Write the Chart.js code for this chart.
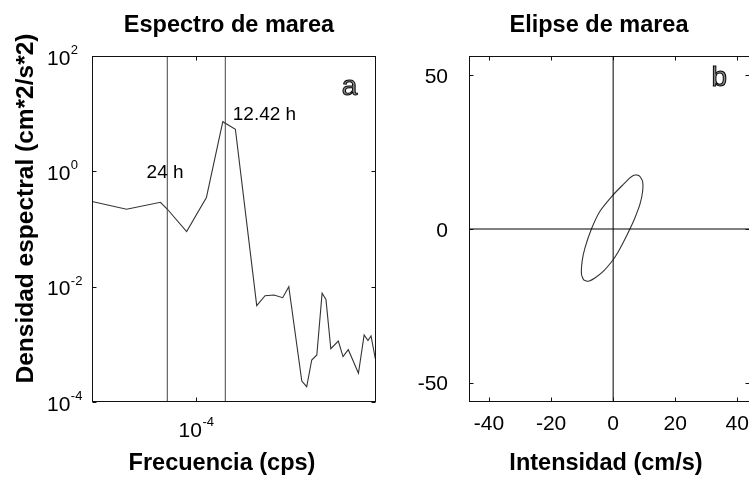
<!DOCTYPE html>
<html lang="es">
<head>
<meta charset="UTF-8">
<title>Espectro y elipse de marea</title>
<script src="https://cdn.jsdelivr.net/npm/chart.js"></script>
<style>
  html, body { margin: 0; padding: 0; background: #fff; overflow: hidden; }
  #wrap { position: relative; width: 749px; height: 479px; overflow: hidden; background: #fff; }
  #espectro { position: absolute; left: 0; top: 0; }
  #elipse { position: absolute; left: 380px; top: 0; }
</style>
</head>
<body>
<div id="wrap">
  <canvas id="espectro" width="380" height="479"></canvas>
  <canvas id="elipse" width="380" height="479"></canvas>
</div>
<script>
// panel a: spectrum (log-log)
const frecuencia = [3.074e-5, 4.55e-5, 6.68e-5, 7.23e-5, 8.99e-5, 1.125e-4, 1.355e-4, 1.563e-4,
  1.991e-4, 2.188e-4, 2.421e-4, 2.673e-4, 2.864e-4, 3.319e-4, 3.508e-4, 3.715e-4, 3.936e-4,
  4.178e-4, 4.365e-4, 4.613e-4, 5.023e-4, 5.297e-4, 5.623e-4, 5.916e-4, 6.310e-4, 6.730e-4,
  7.031e-4, 7.278e-4, 7.621e-4, 7.798e-4];
const densidad = [0.30, 0.22, 0.29, 0.22, 0.090, 0.35, 7.26, 5.36,
  4.68e-3, 6.97e-3, 7.17e-3, 6.44e-3, 9.98e-3, 2.31e-4, 1.84e-4, 5.35e-4, 6.53e-4,
  7.67e-3, 5.99e-3, 8.40e-4, 1.14e-3, 6.11e-4, 8.07e-4, 5.35e-4, 3.15e-4, 1.45e-3,
  1.16e-3, 1.40e-3, 5.91e-4, 6.8e-4];
const periodoTexto = ["24 h", "12.42 h"];
const periodoFrec = [7.22e-5, 1.394e-4];
const periodoTextoPos = [[5.71e-5, 0.766], [1.517e-4, 7.76]];
const frecLim = [3.074e-5, 7.70e-4];
const densLim = [1e-4, 1e2];
const frecTicks = [1e-4];
const densTicks = [1e-4, 1e-2, 1, 1e2];

// panel b: tidal ellipse
const elipseU = [7.5, 8.6, 9.5, 9.5, 8.6, 7.0, 5.4, 3.2, 1.6, 0, -3.2, -5.9, -8.1, -9.5, -10.2,
  -10.0, -9.1, -7.0, -4.3, 0, 3.2, 5.4, 6.5, 7.5];
const elipseV = [17.6, 17.1, 15.5, 12.2, 7.9, 3.6, 0, -4.5, -7.5, -10.0, -13.8, -15.9, -17.0, -16.5, -14.8,
  -10.5, -6.2, 0, 5.7, 11.1, 14.4, 16.6, 17.4, 17.6];
const uLim = [-46.45, 44.1];
const vLim = [-56.2, 56.2];
const uTicks = [-40, -20, 0, 20, 40];
const vTicks = [-50, 0, 50];

const FONT = '"Liberation Sans", Arial, sans-serif';

function expOf(v) { return Math.round(Math.log10(v)); }

// box, inward ticks, tick labels and texts, drawn like the matlab axes
function drawBox(chart, xt, yt) {
  const ctx = chart.ctx, a = chart.chartArea;
  const xs = chart.scales.x, ys = chart.scales.y;
  const L = Math.round(a.left) + 0.5, R = Math.round(a.right) - 0.5;
  const T = Math.round(a.top) + 0.5, B = Math.round(a.bottom) - 0.5;
  ctx.strokeStyle = '#111';
  ctx.lineWidth = 1;
  ctx.strokeRect(L, T, R - L, B - T);
  ctx.beginPath();
  xt.forEach(v => {
    const p = Math.round(xs.getPixelForValue(v)) + 0.5;
    ctx.moveTo(p, B); ctx.lineTo(p, B - 4);
    ctx.moveTo(p, T); ctx.lineTo(p, T + 4);
  });
  yt.forEach(v => {
    const p = Math.round(ys.getPixelForValue(v)) + 0.5;
    ctx.moveTo(L, p); ctx.lineTo(L + 4, p);
    ctx.moveTo(R, p); ctx.lineTo(R - 4, p);
  });
  ctx.stroke();
}

function drawTitles(ctx, t) {
  ctx.fillStyle = '#000';
  ctx.textBaseline = 'alphabetic';
  ctx.font = 'bold 23.5px ' + FONT;
  ctx.textAlign = 'center';
  ctx.fillText(t.title, t.titleX, 31.5);
  ctx.fillText(t.xLabel, t.xLabelX, 470);
  if (t.yLabel) {
    ctx.save();
    ctx.font = 'bold 24.5px ' + FONT;
    ctx.translate(33, 208.5);
    ctx.rotate(-Math.PI / 2);
    ctx.fillText(t.yLabel, 0, 0);
    ctx.restore();
  }
}

function drawLetter(ctx, s, x, y) {
  ctx.font = '28px ' + FONT;
  ctx.textAlign = 'left';
  ctx.lineWidth = 1;
  ctx.strokeStyle = '#000';
  ctx.fillStyle = '#888';
  ctx.fillText(s, x, y);
  ctx.strokeText(s, x, y);
}

const espectroPlugin = {
  id: 'espectroAxes',
  afterDraw(chart) {
    const ctx = chart.ctx, xs = chart.scales.x, ys = chart.scales.y, a = chart.chartArea;
    ctx.save();
    drawBox(chart, frecTicks, densTicks);
    ctx.fillStyle = '#000';
    ctx.textBaseline = 'alphabetic';
    // y tick labels 10^n
    densTicks.forEach(v => {
      const p = ys.getPixelForValue(v);
      ctx.font = '21px ' + FONT;
      ctx.textAlign = 'left';
      ctx.fillText('10', 47, p + 8.5);
      const w = ctx.measureText('10').width;
      ctx.font = '13px ' + FONT;
      ctx.fillText(String(expOf(v)), 47 + w + 0.5, p - 2);
    });
    // x tick labels 10^n
    frecTicks.forEach(v => {
      const p = xs.getPixelForValue(v);
      ctx.font = '21px ' + FONT;
      const w1 = ctx.measureText('10').width;
      ctx.font = '13px ' + FONT;
      const e = String(expOf(v));
      const w2 = ctx.measureText(e).width;
      const x0 = p - (w1 + w2) / 2;
      ctx.textAlign = 'left';
      ctx.font = '21px ' + FONT;
      ctx.fillText('10', x0, a.bottom + 35);
      ctx.font = '13px ' + FONT;
      ctx.fillText(e, x0 + w1 + 0.5, a.bottom + 24);
    });
    // period labels
    ctx.font = '19px ' + FONT;
    ctx.textAlign = 'left';
    periodoTexto.forEach((s, i) => {
      const pos = periodoTextoPos[i];
      ctx.fillText(s, xs.getPixelForValue(pos[0]), ys.getPixelForValue(pos[1]));
    });
    drawLetter(ctx, 'a', xs.getPixelForValue(5.22e-4), ys.getPixelForValue(21.1));
    drawTitles(ctx, {
      title: 'Espectro de marea', titleX: 229,
      xLabel: 'Frecuencia (cps)', xLabelX: 222,
      yLabel: 'Densidad espectral (cm*2/s*2)'
    });
    ctx.restore();
  }
};

const elipsePlugin = {
  id: 'elipseAxes',
  afterDraw(chart) {
    const ctx = chart.ctx, xs = chart.scales.x, ys = chart.scales.y, a = chart.chartArea;
    ctx.save();
    drawBox(chart, uTicks, vTicks);
    ctx.fillStyle = '#000';
    ctx.font = '21px ' + FONT;
    ctx.textBaseline = 'alphabetic';
    ctx.textAlign = 'right';
    vTicks.forEach(v => {
      ctx.fillText(String(v), 68, ys.getPixelForValue(v) + 7.5);
    });
    ctx.textAlign = 'center';
    uTicks.forEach(v => {
      ctx.fillText(String(v), xs.getPixelForValue(v), a.bottom + 28);
    });
    drawLetter(ctx, 'b', xs.getPixelForValue(31.7), ys.getPixelForValue(46.5));
    drawTitles(ctx, {
      title: 'Elipse de marea', titleX: 219,
      xLabel: 'Intensidad (cm/s)', xLabelX: 226
    });
    ctx.restore();
  }
};

function hiddenScale(type, lim, size, horizontal) {
  return {
    type: type,
    min: lim[0],
    max: lim[1],
    ticks: { display: false },
    grid: { display: false },
    border: { display: false },
    afterFit(s) {
      if (horizontal) s.height = size; else s.width = size;
    }
  };
}

const commonOpts = {
  responsive: false,
  animation: false,
  devicePixelRatio: 1,
  plugins: { legend: { display: false }, tooltip: { enabled: false } }
};

// panel a
const espectroPts = frecuencia.map((f, i) => ({ x: f, y: densidad[i] }));
const periodoSets = periodoFrec.map(f => ({
  data: [{ x: f, y: densLim[0] }, { x: f, y: densLim[1] }],
  showLine: true, borderColor: '#444', borderWidth: 1, pointRadius: 0
}));

new Chart(document.getElementById('espectro'), {
  type: 'scatter',
  data: {
    datasets: [
      ...periodoSets,
      { data: espectroPts, showLine: true, borderColor: '#333', borderWidth: 1.1, pointRadius: 0, tension: 0 }
    ]
  },
  options: {
    ...commonOpts,
    layout: { padding: { top: 56, right: 4, left: 0, bottom: 0 } },
    scales: {
      x: hiddenScale('logarithmic', frecLim, 77, true),
      y: hiddenScale('logarithmic', densLim, 92, false)
    }
  },
  plugins: [espectroPlugin]
});

// panel b
const elipsePts = elipseU.map((u, i) => ({ x: u, y: elipseV[i] }));

new Chart(document.getElementById('elipse'), {
  type: 'scatter',
  data: {
    datasets: [
      { data: [{ x: 0, y: vLim[0] }, { x: 0, y: vLim[1] }], showLine: true, borderColor: '#000', borderWidth: 1, pointRadius: 0 },
      { data: [{ x: uLim[0], y: 0 }, { x: uLim[1], y: 0 }], showLine: true, borderColor: '#000', borderWidth: 1, pointRadius: 0 },
      { data: elipsePts, showLine: true, borderColor: '#333', borderWidth: 1.1, pointRadius: 0, tension: 0.15 }
    ]
  },
  options: {
    ...commonOpts,
    layout: { padding: { top: 56, right: 10, left: 0, bottom: 0 } },
    scales: {
      x: hiddenScale('linear', uLim, 77, true),
      y: hiddenScale('linear', vLim, 89, false)
    }
  },
  plugins: [elipsePlugin]
});
</script>
</body>
</html>
